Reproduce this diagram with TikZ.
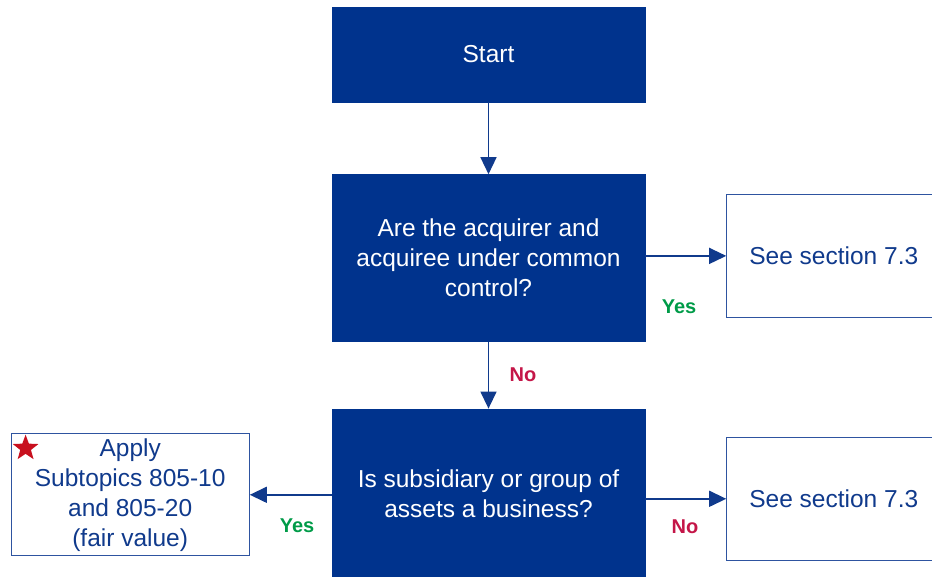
\documentclass[tikz,border=0pt]{standalone}
\usepackage{fontspec}
\setmainfont{Liberation Sans}
\usetikzlibrary{arrows.meta, shapes.geometric, positioning}
\definecolor{navyfill}{RGB}{0,51,141}
\definecolor{navytext}{RGB}{16,58,140}
\definecolor{navyline}{RGB}{46,84,160}
\definecolor{cyes}{RGB}{0,155,72}
\definecolor{cno}{RGB}{196,22,72}
\definecolor{cstar}{RGB}{200,16,30}

\begin{document}
\begin{tikzpicture}[
    x=1pt, y=1pt,
    stepbox/.style={
      rectangle, draw=navyfill, fill=navyfill,
      minimum width=313pt, text=white, align=center,
      font=\fontsize{24.5}{30}\selectfont
    },
    outbox/.style={
      rectangle, draw=navyline, line width=1.2pt, fill=white,
      minimum height=123pt, text=navytext, align=center,
      font=\fontsize{24.5}{30}\selectfont
    },
    flowarr/.style={
      -{Triangle[length=17pt, width=16pt]}, line width=1.4pt, draw=navytext
    },
    yeslbl/.style={font=\fontsize{20}{24}\selectfont\bfseries, text=cyes},
    nolbl/.style={font=\fontsize{20}{24}\selectfont\bfseries, text=cno}
  ]

  \useasboundingbox (0,0) rectangle (932,-577);

  % ---- Decision column ----
  \node[stepbox, minimum height=95pt] (start) at (488.5,-54.5) {Start};
  \node[stepbox, minimum height=167pt, below=72pt of start] (common)
    {Are the acquirer and\\acquiree under common\\control?};
  \node[stepbox, minimum height=169pt, below=67pt of common] (business)
    {Is subsidiary or group of\\assets a business?};

  % ---- Outcome boxes ----
  \node[outbox, minimum width=214pt, right=81pt of common, yshift=2pt] (sect1)
    {See section 7.3};
  \node[outbox, minimum width=214pt, right=81pt of business, yshift=-5.5pt] (sect2)
    {See section 7.3};
  \node[outbox, minimum width=238pt, minimum height=122pt,
        left=82pt of business, yshift=-1.5pt] (apply)
    {Apply\\Subtopics 805-10\\and 805-20\\(fair value)};
  \node[star, star points=5, star point ratio=2.4, fill=cstar, inner sep=0pt,
        minimum size=27pt, xshift=15pt, yshift=-15pt] (mark) at (apply.north west)
    {};

  % ---- Arrows ----
  \draw[flowarr] (start) -- (common);
  \draw[flowarr] (common) -- (business);
  \draw[flowarr] (sect1.west -| common.east) -- (sect1.west);
  \draw[flowarr] (sect2.west -| business.east) -- (sect2.west);
  \draw[flowarr] (apply.east -| business.west) -- (apply.east);

  % ---- Answer labels ----
  \node[yeslbl] (yes1) at (679,-307) {Yes};
  \node[nolbl]  (no1)  at (523,-375) {No};
  \node[yeslbl] (yes2) at (297,-526) {Yes};
  \node[nolbl]  (no2)  at (685,-527) {No};

\end{tikzpicture}
\end{document}
